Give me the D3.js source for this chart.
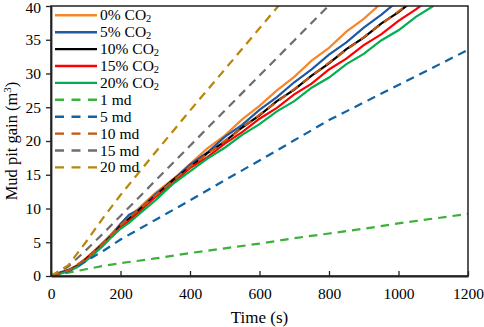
<!DOCTYPE html>
<html><head><meta charset="utf-8">
<script src="https://cdn.jsdelivr.net/npm/d3@7"></script>
<style>body{margin:0;background:#fff}svg{display:block}text{font-family:"Liberation Serif","Times New Roman",Times,serif}</style>
</head><body><svg id="c" width="484" height="327"></svg>
<script>
// ---- data ----
const timeCO2 = [0,25,50,75,100,125,150,175,200,225,250,300,350,400,450,500,550,600,650,700,750,800,850,900,950,1000,1050,1100];
const co2_0  = [0,0.4,0.9,1.6,2.6,3.8,5.0,6.3,7.7,8.9,9.9,12.3,14.3,16.6,18.9,20.8,23.2,25.2,27.5,29.5,31.9,33.8,36.2,38.1,40.4];
const co2_5  = [0,0.5,0.9,1.5,2.5,3.6,4.8,6.1,7.7,9.1,9.7,12.1,14.1,16.5,18.3,20.6,22.4,24.6,26.5,28.7,30.6,32.8,34.6,36.8,38.7,40.8];
const co2_10 = [0,0.4,0.8,1.5,2.5,3.6,4.8,6.0,7.4,8.5,9.6,11.8,14.2,16.1,18.2,19.9,22.0,23.8,25.9,27.6,29.7,31.5,33.6,35.3,37.4,39.1,41.1];
const co2_15 = [0,0.4,0.8,1.4,2.4,3.5,4.7,5.9,7.2,8.2,9.3,11.7,13.7,16.0,17.6,19.6,21.3,23.3,24.9,26.9,28.5,30.6,32.2,34.2,35.8,37.8,39.5,41.4];
const co2_20 = [0,0.3,0.7,1.3,2.2,3.3,4.5,5.8,7.0,7.9,9.0,11.2,13.6,15.5,17.4,19.0,20.9,22.5,24.4,25.9,27.9,29.4,31.4,32.9,34.9,36.4,38.4,40.0];
const timeMd = [0,50,100,150,200,300,400,500,600,700,800,900,1000,1100,1200];
const md1  = [0,0.5,1.0,1.5,1.9,2.6,3.4,4.1,4.8,5.6,6.3,7.0,7.8,8.5,9.2];
const md5  = [0,0.7,2.2,3.7,5.4,8.3,11.2,14.2,17.1,20.1,23.1,25.7,28.3,30.9,33.5];
const md10 = [0,0.8,2.5,4.8,7.5,11.9,16.2,20.0,23.9,27.7,31.6,35.4,39.2,43.0];
const md15 = [0,1.4,3.8,6.3,8.9,14.1,19.3,24.5,29.7,34.9,40.1,45.3];
const md20 = [0,1.6,5.0,8.6,12.0,18.3,24.5,30.6,36.7,42.8];
const seriesNames = ["0% CO","5% CO","10% CO","15% CO","20% CO","1 md","5 md","10 md","15 md","20 md"];
const xTicks = [0,200,400,600,800,1000,1200];
const yTicks = [0,5,10,15,20,25,30,35,40];

const colors = ["#F7862A","#1F58A4","#000000","#FF0000","#00B050","#3DB03A","#0F62A3","#C5550F","#6D6D6D","#B8860B"];
const series = [
  {t:timeCO2, v:co2_0, dash:false},
  {t:timeCO2, v:co2_5, dash:false},
  {t:timeCO2, v:co2_10, dash:false},
  {t:timeCO2, v:co2_15, dash:false},
  {t:timeCO2, v:co2_20, dash:false},
  {t:timeMd, v:md1, dash:true},
  {t:timeMd, v:md5, dash:true},
  {t:timeMd, v:md10, dash:true},
  {t:timeMd, v:md15, dash:true},
  {t:timeMd, v:md20, dash:true}
];

const svg = d3.select("#c");
const L=51, R=468, T=6, B=276;
const x = d3.scaleLinear().domain([0,1200]).range([L,R]);
const y = d3.scaleLinear().domain([0,40]).range([B,T]);
const font = "Liberation Serif, Times New Roman, Times, serif";

svg.append("defs").append("clipPath").attr("id","clip")
  .append("rect").attr("x",L).attr("y",T).attr("width",R-L).attr("height",B-T);

const line = d3.line().x(d=>x(d[0])).y(d=>y(d[1]));
const g = svg.append("g").attr("clip-path","url(#clip)");
series.forEach((s,i)=>{
  const pts = s.v.map((v,j)=>[s.t[j],v]);
  g.append("path").attr("d",line(pts)).attr("fill","none")
    .attr("stroke",colors[i]).attr("stroke-width",2.2)
    .attr("stroke-dasharray", s.dash ? "8.5,6" : null);
});

// frame
svg.append("rect").attr("x",L).attr("y",T).attr("width",R-L).attr("height",B-T)
  .attr("fill","none").attr("stroke","#222").attr("stroke-width",1.5);

// axes
const xa = svg.append("g").attr("transform",`translate(0,${B})`)
  .call(d3.axisBottom(x).tickValues(xTicks).tickFormat(d3.format("d")).tickSizeInner(-5).tickSizeOuter(0).tickPadding(12));
const ya = svg.append("g").attr("transform",`translate(${L},0)`)
  .call(d3.axisLeft(y).tickValues(yTicks).tickFormat(d3.format("d")).tickSizeInner(5).tickSizeOuter(0).tickPadding(5));
[xa,ya].forEach(a=>{
  a.attr("font-family",font).attr("font-size",15.5);
  a.select(".domain").attr("stroke","#222").attr("stroke-width",1.8);
  a.selectAll(".tick line").attr("stroke","#222").attr("stroke-width",1.3);
  a.selectAll("text").attr("font-family",font).attr("font-size",15.5).attr("fill","#000");
});
ya.selectAll(".tick text").filter(d=>d===40).attr("dy","0.42em");

svg.append("text").attr("x",(L+R)/2).attr("y",323).attr("text-anchor","middle")
  .attr("font-family",font).attr("font-size",17).text("Time (s)");
const yt = svg.append("text").attr("transform",`translate(17,${(T+B)/2}) rotate(-90)`)
  .attr("text-anchor","middle").attr("font-family",font).attr("font-size",16.5);
yt.append("tspan").text("Mud pit gain (m");
yt.append("tspan").attr("font-size",11).attr("dy",-6).text("3");
yt.append("tspan").attr("dy",6).text(")");

// legend
const lg = svg.append("g");
seriesNames.forEach((n,i)=>{
  const yy = 15.3 + i*16.9;
  lg.append("line").attr("x1",55).attr("x2",97).attr("y1",yy).attr("y2",yy)
    .attr("stroke",colors[i]).attr("stroke-width",2.4)
    .attr("stroke-dasharray", series[i].dash ? "9,7.5" : null);
  const t = lg.append("text").attr("x",100).attr("y",yy+5)
    .attr("font-family",font).attr("font-size",15.5).text(n);
  if(i<5) t.append("tspan").attr("font-size",10.5).attr("dy",2).text("2");
});
</script></body></html>
